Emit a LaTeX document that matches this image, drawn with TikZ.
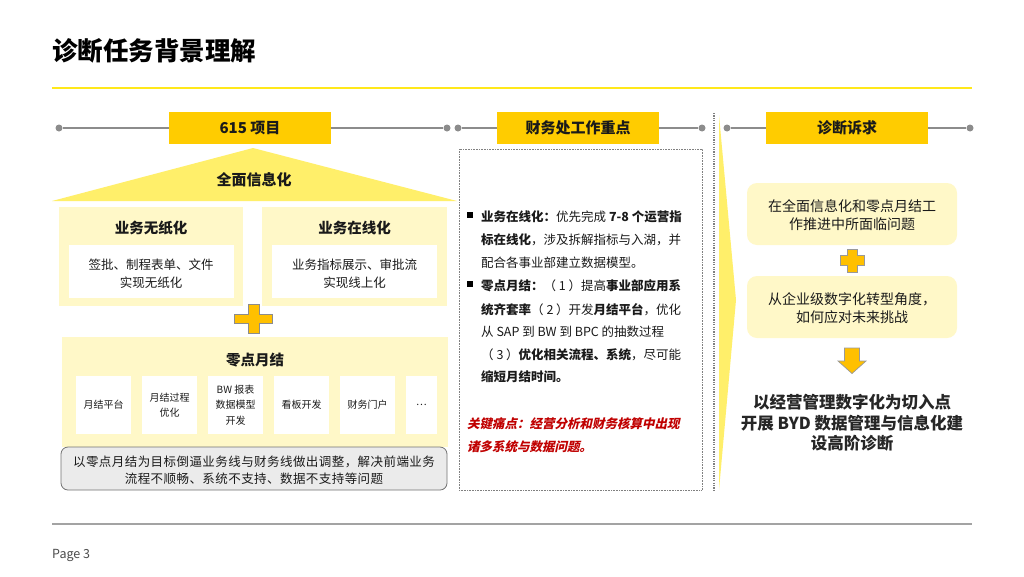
\documentclass[tikz,border=0pt]{standalone}
\usepackage{fontspec}
\setmainfont{Noto Sans CJK SC}
\newfontfamily\slantfont{Noto Sans CJK SC}[FakeSlant=0.22]
\usetikzlibrary{arrows.meta}
\definecolor{gold}{HTML}{FFCC00}
\definecolor{plusgold}{HTML}{FFC000}
\definecolor{triyel}{HTML}{FFEF6A}
\definecolor{cream}{HTML}{FFF8C8}
\definecolor{titleline}{HTML}{FFE81A}
\definecolor{linegray}{HTML}{8C8C8C}
\definecolor{boxgray}{HTML}{EBEBEB}
\definecolor{txt}{HTML}{1A1A1A}
\definecolor{redtxt}{HTML}{C00000}
\newcommand{\fs}[2]{\fontsize{#1}{#2}\selectfont}
\tikzset{
  hdrbox/.style={fill=gold, minimum width=162pt, minimum height=32pt, inner sep=0pt, font=\fs{15}{17}\bfseries, text=txt},
  hdrdot/.style={circle, fill=linegray, inner sep=0pt, minimum size=7pt},
  hdrline/.style={draw=linegray, line width=1.2pt},
  panel/.style={fill=cream, inner sep=0pt},
  whitebox/.style={fill=white, inner sep=0pt},
  paneltitle/.style={font=\fs{14.5}{17}\bfseries, text=txt},
  smalltxt/.style={font=\fs{10}{15.5}, text=txt, align=center},
  bodytxt/.style={font=\fs{12.5}{18}, text=txt, align=center},
  midline/.style={anchor=west, inner sep=0pt, font=\fs{12.5}{14}, text=txt},
  bulletsq/.style={fill=black, minimum size=6.5pt, inner sep=0pt},
  creambox/.style={fill=cream, rounded corners=10pt, minimum width=210pt, minimum height=62pt, inner sep=0pt},
  righttxt/.style={font=\fs{14}{18}, text=txt, align=center},
}
\begin{document}
\begin{tikzpicture}[x=1pt,y=-1pt]
\useasboundingbox (0,0) rectangle (1024,576);
\fill[white] (0,0) rectangle (1024,576);

% Title
\node[anchor=west, inner sep=0pt, font=\fs{25.5}{28}\bfseries, text=black] (title) at (52,51) {诊断任务背景理解};
\coordinate (tl1) at (52,87.5);
\coordinate (tl2) at (972,87.5);
\draw[titleline, line width=2pt] (tl1) -- (tl2);

% Footer
\coordinate (fl1) at (52,524);
\coordinate (fl2) at (972,524);
\draw[linegray!80, line width=1.2pt] (fl1) -- (fl2);
\node[anchor=west, inner sep=0pt, font=\fs{12.5}{14}, text=black!70] (page) at (52,555) {Page 3};

% Header rows
\node[hdrbox] (hdrA) at (250,128) {615 项目};
\node[hdrdot] (dA1) at (59,128) {};
\node[hdrdot] (dA2) at (447,128) {};
\draw[hdrline] (dA1) -- (hdrA.west);
\draw[hdrline] (hdrA.east) -- (dA2);

\node[hdrbox] (hdrB) at (578,128) {财务处工作重点};
\node[hdrdot] (dB1) at (458,128) {};
\node[hdrdot] (dB2) at (702,128) {};
\draw[hdrline] (dB1) -- (hdrB.west);
\draw[hdrline] (hdrB.east) -- (dB2);

\node[hdrbox] (hdrC) at (847,128) {诊断诉求};
\node[hdrdot] (dC1) at (727,128) {};
\node[hdrdot] (dC2) at (970,128) {};
\draw[hdrline] (dC1) -- (hdrC.west);
\draw[hdrline] (hdrC.east) -- (dC2);

% Left column: roof
\fill[triyel] (253,148) -- (457,201) -- (52,201) -- cycle;
\node[paneltitle, font=\fs{15}{17}\bfseries] (roof) at (254,180) {全面信息化};

% Panel 1
\node[panel, minimum width=184pt, minimum height=99pt] (p1) at (151,256.5) {};
\node[paneltitle] (p1t) at (151,228) {业务无纸化};
\node[whitebox, minimum width=165pt, minimum height=53pt] (w1) at (151,271.5) {};
\node[bodytxt] (w1t) at (151,274) {签批、制程表单、文件\\实现无纸化};

% Panel 2
\node[panel, minimum width=185pt, minimum height=99pt] (p2) at (354.5,256.5) {};
\node[paneltitle] (p2t) at (354.5,228) {业务在线化};
\node[whitebox, minimum width=165pt, minimum height=53pt] (w2) at (354.5,271.5) {};
\node[bodytxt] (w2t) at (354.5,274) {业务指标展示、审批流\\实现线上化};

% Plus 1
\filldraw[fill=plusgold, draw=black!45, line width=0.8pt]
  (248,304) -- (259,304) -- (259,314) -- (272,314) -- (272,323.5) -- (259,323.5) -- (259,333)
  -- (248,333) -- (248,323.5) -- (234,323.5) -- (234,314) -- (248,314) -- cycle;

% Panel 3
\node[panel, minimum width=386pt, minimum height=110pt] (p3) at (255,392) {};
\node[paneltitle] (p3t) at (255,360) {零点月结};
\node[whitebox, minimum width=55pt, minimum height=58pt] (s1) at (103.5,405) {};
\node[whitebox, minimum width=55pt, minimum height=58pt] (s2) at (169.5,405) {};
\node[whitebox, minimum width=55pt, minimum height=58pt] (s3) at (235.5,405) {};
\node[whitebox, minimum width=55pt, minimum height=58pt] (s4) at (301.5,405) {};
\node[whitebox, minimum width=55pt, minimum height=58pt] (s5) at (367.5,405) {};
\node[whitebox, minimum width=31pt, minimum height=58pt] (s6) at (421.5,405) {};
\node[smalltxt] (s1t) at (s1) {月结平台};
\node[smalltxt] (s2t) at (s2) {月结过程\\优化};
\node[smalltxt] (s3t) at (s3) {BW 报表\\数据模型\\开发};
\node[smalltxt] (s4t) at (s4) {看板开发};
\node[smalltxt] (s5t) at (s5) {财务门户};
\node[smalltxt] (s6t) at (s6) {…};

% Gray conclusion box
\node[fill=boxgray, draw=black!55, line width=0.8pt, rounded corners=7pt, minimum width=386pt, minimum height=43pt, inner sep=0pt] (gbox) at (254,468.5) {};
\node[font=\fs{12.5}{16.5}\addfontfeature{LetterSpace=3.5}, text=txt, align=center] (gboxt) at (254,470) {以零点月结为目标倒逼业务线与财务线做出调整，解决前端业务\\流程不顺畅、系统不支持、数据不支持等问题};

% Middle column
\node[draw=black!50, densely dotted, line width=0.6pt, minimum width=243pt, minimum height=341pt, inner sep=0pt] (mbox) at (580.5,319.5) {};
\node[bulletsq] (b1) at (470,215) {};
\node[bulletsq] (b2) at (470,284) {};
\node[midline] (m1) at (481,217) {\textbf{业务在线化：}优先完成 \textbf{7-8 个运营指}};
\node[midline] (m2) at (481,240) {\textbf{标在线化}，涉及拆解指标与入湖，并};
\node[midline] (m3) at (481,263) {配合各事业部建立数据模型。};
\node[midline] (m4) at (481,286) {\textbf{零点月结：}（ 1 ）提高\textbf{事业部应用系}};
\node[midline] (m5) at (481,310) {\textbf{统齐套率}（ 2 ）开发\textbf{月结平台}，优化};
\node[midline] (m6) at (481,332) {从 SAP 到 BW 到 BPC 的抽数过程};
\node[midline] (m7) at (481,355) {（ 3 ）\textbf{优化相关流程、系统}，尽可能};
\node[midline] (m8) at (481,377) {\textbf{缩短月结时间。}};
\node[midline, font=\fs{12.5}{14}\slantfont\bfseries, text=redtxt] (r1) at (467,424) {关键痛点：经营分析和财务核算中出现};
\node[midline, font=\fs{12.5}{14}\slantfont\bfseries, text=redtxt] (r2) at (467,447) {诸多系统与数据问题。};

% Divider and wedge
\coordinate (dv1) at (714,113);
\coordinate (dv2) at (714,492);
\draw[black!50, line width=2pt, dash pattern=on 1.2pt off 1.2pt] (dv1) -- (dv2);
\fill[triyel] (719,115) -- (736,300) -- (719,490) -- cycle;

% Right column
\node[creambox] (r1box) at (852,214) {};
\node[righttxt] (r1boxt) at (852,215) {在全面信息化和零点月结工\\作推进中所面临问题};
\filldraw[fill=plusgold, draw=black!40, line width=0.7pt]
  (847,249) -- (857,249) -- (857,255.5) -- (864,255.5) -- (864,265.5) -- (857,265.5) -- (857,272)
  -- (847,272) -- (847,265.5) -- (840,265.5) -- (840,255.5) -- (847,255.5) -- cycle;
\node[creambox] (r2box) at (852,307) {};
\node[righttxt] (r2boxt) at (852,308) {从企业级数字化转型角度，\\如何应对未来挑战};
\filldraw[fill=plusgold, draw=black!40, line width=0.7pt]
  (844.5,348) -- (859.5,348) -- (859.5,361) -- (866,361) -- (852,373.5) -- (838,361) -- (844.5,361) -- cycle;
\node[font=\fs{16.5}{20.5}\bfseries, text=black!85, align=center] (final) at (852,423) {以经营管理数字化为切入点\\开展 BYD 数据管理与信息化建\\设高阶诊断};
\end{tikzpicture}
\end{document}
